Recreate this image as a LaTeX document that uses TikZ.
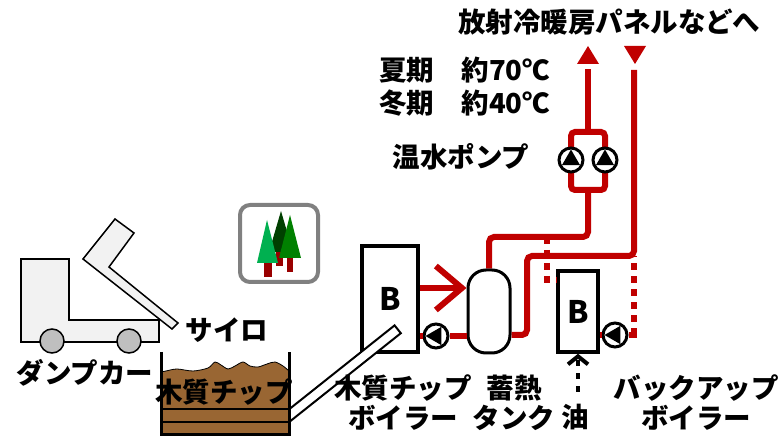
\documentclass[tikz,border=0pt]{standalone}
\usepackage{fontspec}
\setmainfont{Noto Sans CJK JP}
\usetikzlibrary{arrows.meta}
\definecolor{PipeRed}{RGB}{192, 0, 0}
\definecolor{ChipBrown}{RGB}{153, 102, 51}
\definecolor{TruckGray}{RGB}{242, 242, 242}
\definecolor{WheelGray}{RGB}{191, 191, 191}
\definecolor{IconGray}{RGB}{128, 128, 128}
\definecolor{LeafLight}{RGB}{0, 176, 80}
\definecolor{LeafDark}{RGB}{0, 64, 0}
\definecolor{LeafMid}{RGB}{0, 128, 0}
\definecolor{TrunkRed}{RGB}{153, 0, 0}

\tikzset{
  pipe/.style={draw=PipeRed, line width=6pt},
  dotpipe/.style={pipe, dash pattern=on 7pt off 6pt},
  boiler/.style={draw, line width=3.5pt, fill=white, inner sep=0pt, font=\bfseries\fontsize{31}{33}\selectfont},
  pump/.style={circle, draw, line width=3pt, fill=white, minimum size=24pt, inner sep=0pt},
  pumpleft/.style={pump, path picture={
      \fill[black] ([shift={(180:10.5pt)}]path picture bounding box.center)
         -- ([shift={(60:10.5pt)}]path picture bounding box.center)
         -- ([shift={(-60:10.5pt)}]path picture bounding box.center) -- cycle;}},
  pumpup/.style={pump, path picture={
      \fill[black] ([shift={(90:10.5pt)}]path picture bounding box.center)
         -- ([shift={(210:10.5pt)}]path picture bounding box.center)
         -- ([shift={(330:10.5pt)}]path picture bounding box.center) -- cycle;}},
  lbl/.style={font=\bfseries\fontsize{27.5}{30}\selectfont, align=center, inner sep=0pt}
}

\begin{document}
\begin{tikzpicture}[x=1pt, y=-1pt]
  \useasboundingbox[fill=white] (0,0) rectangle (780,438);

  % dump truck
  \filldraw[fill=TruckGray, line width=1.5pt] (21,259) -- (69,259) -- (69,320) -- (159,320) -- (159,342) -- (21,342) -- cycle;
  \filldraw[fill=TruckGray, line width=1.5pt] (115,219) -- (134,233) -- (109,267) -- (178,323) -- (172,329) -- (83,259) -- cycle;
  \filldraw[fill=WheelGray, line width=1.5pt] (52,341) circle (12);
  \filldraw[fill=WheelGray, line width=1.5pt] (129,341) circle (12);

  % forest icon
  \draw[IconGray, line width=4pt, rounded corners=10pt] (240,205) rectangle (318,282);
  \fill[TrunkRed] (276,248) rectangle (283,266);
  \fill[LeafDark] (269,252) -- (281,211) -- (293,252) -- cycle;
  \fill[TrunkRed] (287,256) rectangle (293,272);
  \fill[LeafMid] (279,258) -- (290,215) -- (301,258) -- cycle;
  \fill[TrunkRed] (264,261) rectangle (272,277);
  \fill[LeafLight] (257,263) -- (267,220) -- (278,263) -- cycle;

  % boilers, tank and pumps
  \node[boiler, minimum width=56pt, minimum height=106pt] (cb) at (390,299) {B};
  \node[boiler, minimum width=40pt, minimum height=81pt] (bb) at (578,311.5) {B};
  \node[draw, line width=3pt, fill=white, minimum width=42pt, minimum height=83pt, rounded corners=18pt] (tank) at (489,311.5) {};
  \node[pumpleft] (cp) at (436,336) {};
  \node[pumpleft] (bp) at (615,335) {};

  % chip conveyor into the boiler
  \node[draw, line width=2pt, fill=white, minimum width=150pt, minimum height=10pt, rotate=38.5] (conv) at (339,376) {};

  % silo with wood chips
  \filldraw[fill=ChipBrown, line width=0.8pt] plot[smooth] coordinates {(161,372) (166,371) (177,369) (193,371) (208,368) (215,362) (221,365) (228,369) (235,366) (243,362) (250,366) (258,367) (267,364) (275,362) (283,366) (289,371)} -- (289,435) -- (161,435) -- cycle;
  \draw[line width=2pt] (161,409) -- (289,409) (161,422) -- (289,422);
  \draw[line width=3pt] (161,352) -- (161,435) -- (289,435) -- (289,352);

  % heating circuit
  \coordinate (hb) at (588,190);
  \coordinate (ht) at (588,132);
  \coordinate (outU) at (588,69);
  \coordinate (outD) at (634,70);
  \coordinate (bj) at (634,335);
  \draw[dotpipe] (547,237) -- (547,280) -- (bb.west |- 0,280);
  \draw[pipe, rounded corners=5pt] (tank.north) -- (489,237) -- (588,237) -- (hb);
  \draw[pipe, rounded corners=5pt] (outD) -- (634,256) -- (527,256) -- (527,335) -- (tank.east |- bp);
  \draw[pipe, rounded corners=4pt] (571,132) rectangle (605,190);
  \draw[pipe] (ht) -- (outU);
  \fill[PipeRed] (577,64) -- (588,46) -- (599,64) -- cycle;
  \fill[PipeRed] (624,46) -- (646,46) -- (635,64) -- cycle;
  \node[pumpup] (hp1) at (571,160) {};
  \node[pumpup] (hp2) at (605,160) {};

  \draw[pipe, -{Straight Barb[length=26pt, width=44pt]}] (cb.east |- 0,288) -- (tank.west |- 0,288);
  \draw[pipe] (tank.west |- cp) -- (cp.east);
  \draw[pipe] (cp.west) -- (cb.east |- cp);
  \draw[pipe] (bp.west) -- (bb.east |- bp);
  \draw[pipe] (bp.east) -- ([xshift=3pt]bj);
  \draw[dotpipe] (bj) -- (634,256);

  % oil feed
  \coordinate (oil) at (578,392);
  \draw[line width=4pt, dash pattern=on 6pt off 7pt, -{Straight Barb[length=8pt, width=20pt]}] (oil) -- (bb.south);

  % labels
  \node[lbl] (dest) at (609,22) {放射冷暖房パネルなどへ};
  \node[lbl, anchor=west] (summer) at (379,70) {夏期　約70℃};
  \node[lbl, anchor=west] (winter) at (379,103) {冬期　約40℃};
  \node[lbl] (hwpump) at (461,157) {温水ポンプ};
  \node[lbl] (silo) at (227,330) {サイロ};
  \node[lbl] (truck) at (85,373) {ダンプカー};
  \node[lbl] (chips) at (224,392) {木質チップ};
  \node[lbl] (cblbl) at (403,403) {木質チップ\\ボイラー};
  \node[lbl] (tanklbl) at (514,403) {蓄熱\\タンク};
  \node[lbl] (oillbl) at (575,417) {油};
  \node[lbl] (bblbl) at (696,403) {バックアップ\\ボイラー};
\end{tikzpicture}
\end{document}
